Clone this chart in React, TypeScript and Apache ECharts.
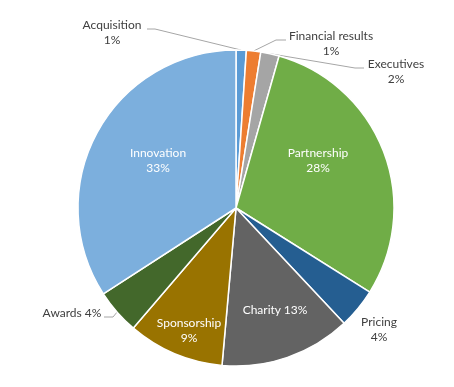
import React, { useEffect, useRef } from "react";
import * as echarts from "echarts";

const categories = [
  "Acquisition",
  "Financial results",
  "Executives",
  "Partnership",
  "Pricing",
  "Charity",
  "Sponsorship",
  "Awards",
  "Innovation",
];
const values = [1.0, 1.4, 1.8, 28.2, 3.9, 12.8, 9.4, 4.4, 32.6];
const colors = [
  "#5B9BD5",
  "#ED7D31",
  "#A5A5A5",
  "#70AD47",
  "#255E91",
  "#636363",
  "#997300",
  "#43682B",
  "#7CAFDD",
];
const insideLabels = ["Partnership", "Charity", "Sponsorship", "Innovation"];
const singleLine = ["Charity", "Awards"];

const CX = 236;
const CY = 208;
const R = 158;

// label centres (text placement, not marks)
const labelPos: Record<string, [number, number]> = {
  Acquisition: [112, 32],
  "Financial results": [331, 42.5],
  Executives: [396, 71],
  Partnership: [318, 160],
  Pricing: [379, 329],
  Charity: [275, 309],
  Sponsorship: [189, 330],
  Awards: [72, 312],
  Innovation: [158, 160],
};
// leader-line bends and ends
const leader: Record<string, [number, number][]> = {
  Acquisition: [[155, 29], [147, 29]],
  "Financial results": [[276, 40], [286, 40]],
  Executives: [[355, 68], [364, 68]],
  Awards: [[113, 317], [104, 317]],
};

export default function App() {
  const ref = useRef<HTMLDivElement>(null);
  useEffect(() => {
    if (!ref.current) return;
    const chart = echarts.init(ref.current, undefined, { renderer: "svg" });
    const total = values.reduce((a, b) => a + b, 0);
    const midAngles: number[] = [];
    let cum = 0;
    values.forEach((v) => {
      midAngles.push(((cum + v / 2) / total) * 2 * Math.PI);
      cum += v;
    });
    const data = categories.map((name, i) => {
      const inside = insideLabels.includes(name);
      return {
        name,
        value: values[i],
        itemStyle: { color: colors[i] },
        label: {
          color: inside ? "#FFFFFF" : "#404040",
        },
        labelLine: { show: !!leader[name] },
      };
    });
    chart.setOption({
      animation: false,
      textStyle: { fontFamily: "Lato" },
      series: [
        {
          type: "pie",
          center: [CX, CY],
          radius: R,
          startAngle: 90,
          clockwise: true,
          avoidLabelOverlap: false,
          itemStyle: { borderColor: "#FFFFFF", borderWidth: 1.5 },
          label: {
            show: true,
            position: "outside",
            fontFamily: "Lato",
            fontSize: 12,
            lineHeight: 15,
            align: "center",
            formatter: (p: any) => {
              const pct = Math.round(p.value) + "%";
              return singleLine.includes(p.name)
                ? p.name + " " + pct
                : p.name + "\n" + pct;
            },
          },
          labelLine: {
            show: true,
            lineStyle: { color: "#A6A6A6", width: 1 },
          },
          labelLayout: (params: any) => {
            const name = categories[params.dataIndex];
            const pos = labelPos[name];
            const out: any = {
              x: pos[0],
              y: pos[1],
              align: "center",
              verticalAlign: "middle",
            };
            const l = leader[name];
            if (l) {
              const a = midAngles[params.dataIndex];
              const edge = [CX + R * Math.sin(a), CY - R * Math.cos(a)];
              out.labelLinePoints = [edge, l[0], l[1]];
            }
            return out;
          },
          data,
        },
      ],
    });
    return () => chart.dispose();
  }, []);
  return (
    <div
      ref={ref}
      style={{ position: "fixed", left: 0, top: 0, width: 454, height: 387 }}
    />
  );
}
